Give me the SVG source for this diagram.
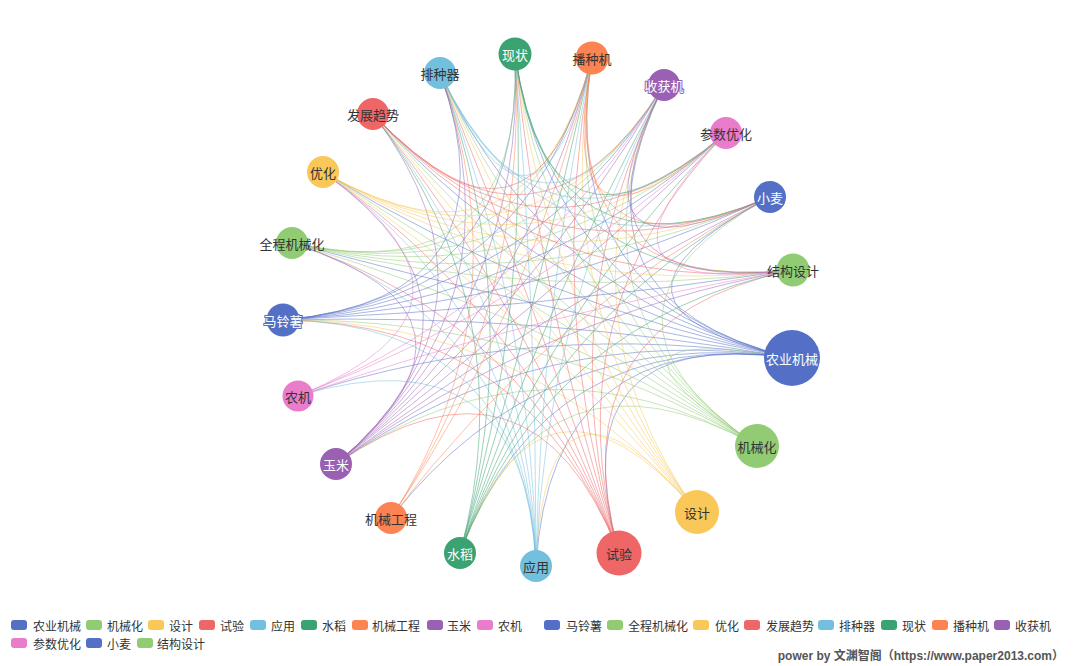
<svg xmlns="http://www.w3.org/2000/svg" width="1080" height="666" viewBox="0 0 1080 666">
<style>
text{font-family:"Noto Sans CJK SC","Liberation Sans",sans-serif}
.e{fill:none;stroke-width:1;stroke-opacity:0.5}
.c0{stroke:#5470c6}.c1{stroke:#91cc75}.c2{stroke:#fac858}.c3{stroke:#ee6666}.c4{stroke:#73c0de}.c5{stroke:#3ba272}.c6{stroke:#fc8452}.c7{stroke:#9a60b4}.c8{stroke:#ea7ccc}
.f0{fill:#5470c6}.f1{fill:#91cc75}.f2{fill:#fac858}.f3{fill:#ee6666}.f4{fill:#73c0de}.f5{fill:#3ba272}.f6{fill:#fc8452}.f7{fill:#9a60b4}.f8{fill:#ea7ccc}
.lb{font-size:13px;text-anchor:middle;dominant-baseline:central;fill:#333}
.lw{font-size:13px;text-anchor:middle;dominant-baseline:central;fill:#fff;stroke-width:2;paint-order:stroke}
.lg{font-size:12px;fill:#333;dominant-baseline:central}
</style>
<rect width="1080" height="666" fill="#fff"/>
<g id="connectors" transform="translate(538,310)">
<path class="e c0" d="M254 48Q0 3 -255 10"/>
<path class="e c0" d="M254 48Q0 -1 -246 -67"/>
<path class="e c0" d="M254 48Q2 -4.5 -215 -138"/>
<path class="e c0" d="M254 48Q4.5 -7.4 -165 -196"/>
<path class="e c0" d="M254 48Q7.8 -9.5 -98 -237"/>
<path class="e c0" d="M254 48Q11.6 -10.4 -23 -256"/>
<path class="e c0" d="M254 48Q15.4 -10.2 54 -252"/>
<path class="e c0" d="M254 48Q19 -8.9 126 -225"/>
<path class="e c0" d="M254 48Q2.6 10.1 -202 154"/>
<path class="e c0" d="M254 48Q8.8 14.6 -78 243"/>
<path class="e c0" d="M254 48Q12.6 15.2 -2 256"/>
<path class="e c0" d="M254 48Q0.7 6.7 -240 86"/>
<path class="e c0" d="M254 48Q5.4 12.8 -147 208"/>
<path class="e c0" d="M254 48Q16.8 14.6 81 243"/>
<path class="e c0" d="M254 48Q24.3 -3.3 232 -113"/>
<path class="e c1" d="M219 136Q-1.4 3.5 -246 -67"/>
<path class="e c1" d="M219 136Q-1.8 7.3 -255 10"/>
<path class="e c1" d="M219 136Q2.7 -3 -165 -196"/>
<path class="e c1" d="M219 136Q9.8 -6 -23 -256"/>
<path class="e c1" d="M219 136Q6 -5 -98 -237"/>
<path class="e c1" d="M219 136Q13.7 -5.8 54 -252"/>
<path class="e c1" d="M219 136Q0.9 14.5 -202 154"/>
<path class="e c1" d="M219 136Q7 19 -78 243"/>
<path class="e c1" d="M219 136Q17.3 -4.5 126 -225"/>
<path class="e c1" d="M219 136Q22.6 1.2 232 -113"/>
<path class="e c1" d="M219 136Q0.2 -0.1 -215 -138"/>
<path class="e c1" d="M219 136Q23.7 9.2 254 48"/>
<path class="e c2" d="M159 202Q-2.8 3.2 -215 -138"/>
<path class="e c2" d="M159 202Q3 -1.8 -98 -237"/>
<path class="e c2" d="M159 202Q10.7 -2.5 54 -252"/>
<path class="e c2" d="M159 202Q-0.3 0.3 -165 -196"/>
<path class="e c2" d="M159 202Q6.8 -2.7 -23 -256"/>
<path class="e c2" d="M159 202Q-4.8 10.6 -255 10"/>
<path class="e c2" d="M159 202Q14.3 -1.2 126 -225"/>
<path class="e c2" d="M159 202Q7.9 22.9 -2 256"/>
<path class="e c2" d="M159 202Q4 22.3 -78 243"/>
<path class="e c3" d="M81 243Q-4.2 2.4 -165 -196"/>
<path class="e c3" d="M81 243Q6.8 -0.5 54 -252"/>
<path class="e c3" d="M81 243Q10.4 0.9 126 -225"/>
<path class="e c3" d="M81 243Q-0.9 0.3 -98 -237"/>
<path class="e c3" d="M81 243Q2.9 -0.7 -23 -256"/>
<path class="e c3" d="M81 243Q-8.7 12.7 -255 10"/>
<path class="e c3" d="M81 243Q-8.3 8.8 -246 -67"/>
<path class="e c3" d="M81 243Q-6 19.9 -202 154"/>
<path class="e c3" d="M81 243Q13.5 3.3 188 -177"/>
<path class="e c3" d="M81 243Q16.8 10.2 255 -40"/>
<path class="e c3" d="M81 243Q-6.7 5.3 -215 -138"/>
<path class="e c4" d="M-2 256Q-5 1 -98 -237"/>
<path class="e c4" d="M-2 256Q-1.3 0 -23 -256"/>
<path class="e c4" d="M-2 256Q2.6 0.2 54 -252"/>
<path class="e c4" d="M-2 256Q-8.4 3 -165 -196"/>
<path class="e c4" d="M-2 256Q6.2 1.6 126 -225"/>
<path class="e c4" d="M-2 256Q-12.4 9.5 -246 -67"/>
<path class="e c4" d="M-2 256Q-12.9 13.3 -255 10"/>
<path class="e c4" d="M-2 256Q-12.1 17.1 -240 86"/>
<path class="e c4" d="M-2 256Q-10.9 5.9 -215 -138"/>
<path class="e c5" d="M-78 243Q-5 -0.7 -23 -256"/>
<path class="e c5" d="M-78 243Q-1.2 -0.5 54 -252"/>
<path class="e c5" d="M-78 243Q2.4 0.9 126 -225"/>
<path class="e c5" d="M-78 243Q-8.8 0.3 -98 -237"/>
<path class="e c5" d="M-78 243Q7.7 6.5 232 -113"/>
<path class="e c5" d="M-78 243Q5.5 3.3 188 -177"/>
<path class="e c5" d="M-78 243Q8.9 10.2 255 -40"/>
<path class="e c5" d="M-78 243Q-12.2 2.4 -165 -196"/>
<path class="e c6" d="M-147 208Q-4.7 -2.2 54 -252"/>
<path class="e c6" d="M-147 208Q-12.3 -1.5 -98 -237"/>
<path class="e c6" d="M-147 208Q-8.5 -2.4 -23 -256"/>
<path class="e c6" d="M-147 208Q4.3 4.8 232 -113"/>
<path class="e c7" d="M-202 154Q-3.8 -3.6 126 -225"/>
<path class="e c7" d="M-202 154Q-7.4 -4.9 54 -252"/>
<path class="e c7" d="M-202 154Q-11.3 -5.1 -23 -256"/>
<path class="e c7" d="M-202 154Q-15 -4.2 -98 -237"/>
<path class="e c7" d="M-202 154Q1.5 2 232 -113"/>
<path class="e c7" d="M-202 154Q2.7 5.7 255 -40"/>
<path class="e c7" d="M-202 154Q-22.4 4.4 -246 -67"/>
<path class="e c7" d="M-202 154Q-0.7 -1.2 188 -177"/>
<path class="e c7" d="M-202 154Q-18.4 -2.1 -165 -196"/>
<path class="e c7" d="M-202 154Q-20.9 0.8 -215 -138"/>
<path class="e c8" d="M-240 86Q-5.7 -7 126 -225"/>
<path class="e c8" d="M-240 86Q-2.6 -4.6 188 -177"/>
<path class="e c8" d="M-240 86Q0.8 2.3 255 -40"/>
<path class="e c8" d="M-240 86Q-22.8 -2.6 -215 -138"/>
<path class="e c0" d="M-255 10Q-6.5 -10.8 126 -225"/>
<path class="e c0" d="M-255 10Q-3.4 -8.4 188 -177"/>
<path class="e c0" d="M-255 10Q-1.2 -5.2 232 -113"/>
<path class="e c0" d="M-255 10Q0 -1.5 255 -40"/>
<path class="e c0" d="M-255 10Q-10 -12.1 54 -252"/>
<path class="e c0" d="M-255 10Q-13.9 -12.3 -23 -256"/>
<path class="e c0" d="M-255 10Q-17.7 -11.4 -98 -237"/>
<path class="e c1" d="M-246 -67Q-6 -14.6 126 -225"/>
<path class="e c1" d="M-246 -67Q-0.7 -9 232 -113"/>
<path class="e c1" d="M-246 -67Q0.5 -5.4 255 -40"/>
<path class="e c1" d="M-246 -67Q-2.9 -12.2 188 -177"/>
<path class="e c1" d="M-246 -67Q-9.6 -16 54 -252"/>
<path class="e c1" d="M-246 -67Q-13.5 -16.2 -23 -256"/>
<path class="e c2" d="M-215 -138Q-4.5 -18.2 126 -225"/>
<path class="e c2" d="M-215 -138Q0.9 -12.6 232 -113"/>
<path class="e c2" d="M-215 -138Q2 -8.9 255 -40"/>
<path class="e c2" d="M-215 -138Q-1.4 -15.8 188 -177"/>
<path class="e c2" d="M-215 -138Q-8 -19.5 54 -252"/>
<path class="e c3" d="M-165 -196Q-2 -21 126 -225"/>
<path class="e c3" d="M-165 -196Q1.2 -18.7 188 -177"/>
<path class="e c3" d="M-165 -196Q3.4 -15.5 232 -113"/>
<path class="e c3" d="M-165 -196Q4.5 -11.8 255 -40"/>
<path class="e c3" d="M-165 -196Q-5.6 -22.4 54 -252"/>
<path class="e c4" d="M-98 -237Q1.4 -23.1 126 -225"/>
<path class="e c4" d="M-98 -237Q4.5 -20.7 188 -177"/>
<path class="e c4" d="M-98 -237Q6.7 -17.5 232 -113"/>
<path class="e c4" d="M-98 -237Q-2.2 -24.5 54 -252"/>
<path class="e c5" d="M-23 -256Q8.3 -21.7 188 -177"/>
<path class="e c5" d="M-23 -256Q10.5 -18.5 232 -113"/>
<path class="e c5" d="M-23 -256Q11.6 -14.8 255 -40"/>
<path class="e c6" d="M54 -252Q12.1 -21.5 188 -177"/>
<path class="e c6" d="M54 -252Q14.3 -18.3 232 -113"/>
<path class="e c6" d="M54 -252Q15.5 -14.6 255 -40"/>
<path class="e c7" d="M126 -225Q17.9 -16.9 232 -113"/>
<path class="e c7" d="M126 -225Q19 -13.3 255 -40"/>
<path class="e c8" d="M188 -177Q22.2 -10.9 255 -40"/>
</g>
<g id="n0"><circle cx="792" cy="358" r="28" class="f0"/><text x="792" y="358" class="lw" stroke="#5470c6">农业机械</text></g>
<g id="n1"><circle cx="757" cy="446" r="22" class="f1"/><text x="757" y="446" class="lb">机械化</text></g>
<g id="n2"><circle cx="697" cy="512" r="22" class="f2"/><text x="697" y="512" class="lb">设计</text></g>
<g id="n3"><circle cx="619" cy="553" r="22.5" class="f3"/><text x="619" y="553" class="lb">试验</text></g>
<g id="n4"><circle cx="536" cy="566" r="16" class="f4"/><text x="536" y="566" class="lb">应用</text></g>
<g id="n5"><circle cx="460" cy="553" r="16" class="f5"/><text x="460" y="553" class="lw" stroke="#3ba272">水稻</text></g>
<g id="n6"><circle cx="391" cy="518" r="16" class="f6"/><text x="391" y="518" class="lb">机械工程</text></g>
<g id="n7"><circle cx="336" cy="464" r="16" class="f7"/><text x="336" y="464" class="lw" stroke="#9a60b4">玉米</text></g>
<g id="n8"><circle cx="298" cy="396" r="15.5" class="f8"/><text x="298" y="396" class="lb">农机</text></g>
<g id="n9"><circle cx="283" cy="320" r="16.5" class="f0"/><text x="283" y="320" class="lw" stroke="#5470c6">马铃薯</text></g>
<g id="n10"><circle cx="292" cy="243" r="16" class="f1"/><text x="292" y="243" class="lb">全程机械化</text></g>
<g id="n11"><circle cx="323" cy="172" r="16" class="f2"/><text x="323" y="172" class="lb">优化</text></g>
<g id="n12"><circle cx="373" cy="114" r="16" class="f3"/><text x="373" y="114" class="lb">发展趋势</text></g>
<g id="n13"><circle cx="440" cy="73" r="16" class="f4"/><text x="440" y="73" class="lb">排种器</text></g>
<g id="n14"><circle cx="515" cy="54" r="16.5" class="f5"/><text x="515" y="54" class="lw" stroke="#3ba272">现状</text></g>
<g id="n15"><circle cx="592" cy="58" r="16.5" class="f6"/><text x="592" y="58" class="lb">播种机</text></g>
<g id="n16"><circle cx="664" cy="85" r="16" class="f7"/><text x="664" y="85" class="lw" stroke="#9a60b4">收获机</text></g>
<g id="n17"><circle cx="726" cy="133" r="16" class="f8"/><text x="726" y="133" class="lb">参数优化</text></g>
<g id="n18"><circle cx="770" cy="197" r="16" class="f0"/><text x="770" y="197" class="lw" stroke="#5470c6">小麦</text></g>
<g id="n19"><circle cx="793" cy="270" r="16.5" class="f1"/><text x="793" y="270" class="lb">结构设计</text></g>
<g id="legend">
<rect x="11" y="620" width="16" height="10" rx="3" class="f0"/><text x="33" y="625" class="lg">农业机械</text>
<rect x="86" y="620" width="16" height="10" rx="3" class="f1"/><text x="107" y="625" class="lg">机械化</text>
<rect x="148" y="620" width="16" height="10" rx="3" class="f2"/><text x="169" y="625" class="lg">设计</text>
<rect x="199" y="620" width="16" height="10" rx="3" class="f3"/><text x="220" y="625" class="lg">试验</text>
<rect x="250" y="620" width="16" height="10" rx="3" class="f4"/><text x="271" y="625" class="lg">应用</text>
<rect x="301" y="620" width="16" height="10" rx="3" class="f5"/><text x="322" y="625" class="lg">水稻</text>
<rect x="352" y="620" width="16" height="10" rx="3" class="f6"/><text x="372" y="625" class="lg">机械工程</text>
<rect x="427" y="620" width="16" height="10" rx="3" class="f7"/><text x="447" y="625" class="lg">玉米</text>
<rect x="477" y="620" width="16" height="10" rx="3" class="f8"/><text x="498" y="625" class="lg">农机</text>
<rect x="544" y="620" width="16" height="10" rx="3" class="f0"/><text x="566" y="625" class="lg">马铃薯</text>
<rect x="607" y="620" width="16" height="10" rx="3" class="f1"/><text x="628" y="625" class="lg">全程机械化</text>
<rect x="693" y="620" width="16" height="10" rx="3" class="f2"/><text x="715" y="625" class="lg">优化</text>
<rect x="744" y="620" width="16" height="10" rx="3" class="f3"/><text x="766" y="625" class="lg">发展趋势</text>
<rect x="818" y="620" width="16" height="10" rx="3" class="f4"/><text x="839" y="625" class="lg">排种器</text>
<rect x="881" y="620" width="16" height="10" rx="3" class="f5"/><text x="902" y="625" class="lg">现状</text>
<rect x="932" y="620" width="16" height="10" rx="3" class="f6"/><text x="953" y="625" class="lg">播种机</text>
<rect x="994" y="620" width="16" height="10" rx="3" class="f7"/><text x="1015" y="625" class="lg">收获机</text>
<rect x="11" y="638" width="16" height="10" rx="3" class="f8"/><text x="33" y="643" class="lg">参数优化</text>
<rect x="86" y="638" width="16" height="10" rx="3" class="f0"/><text x="107" y="643" class="lg">小麦</text>
<rect x="137" y="638" width="16" height="10" rx="3" class="f1"/><text x="157" y="643" class="lg">结构设计</text>
</g>
<text x="1064" y="656" text-anchor="end" dominant-baseline="central" font-size="12" font-weight="bold" fill="#555" style="font-family:'Liberation Sans','Noto Sans CJK SC',sans-serif">power by 文渊智阁（https://www.paper2013.com）</text>
</svg>
